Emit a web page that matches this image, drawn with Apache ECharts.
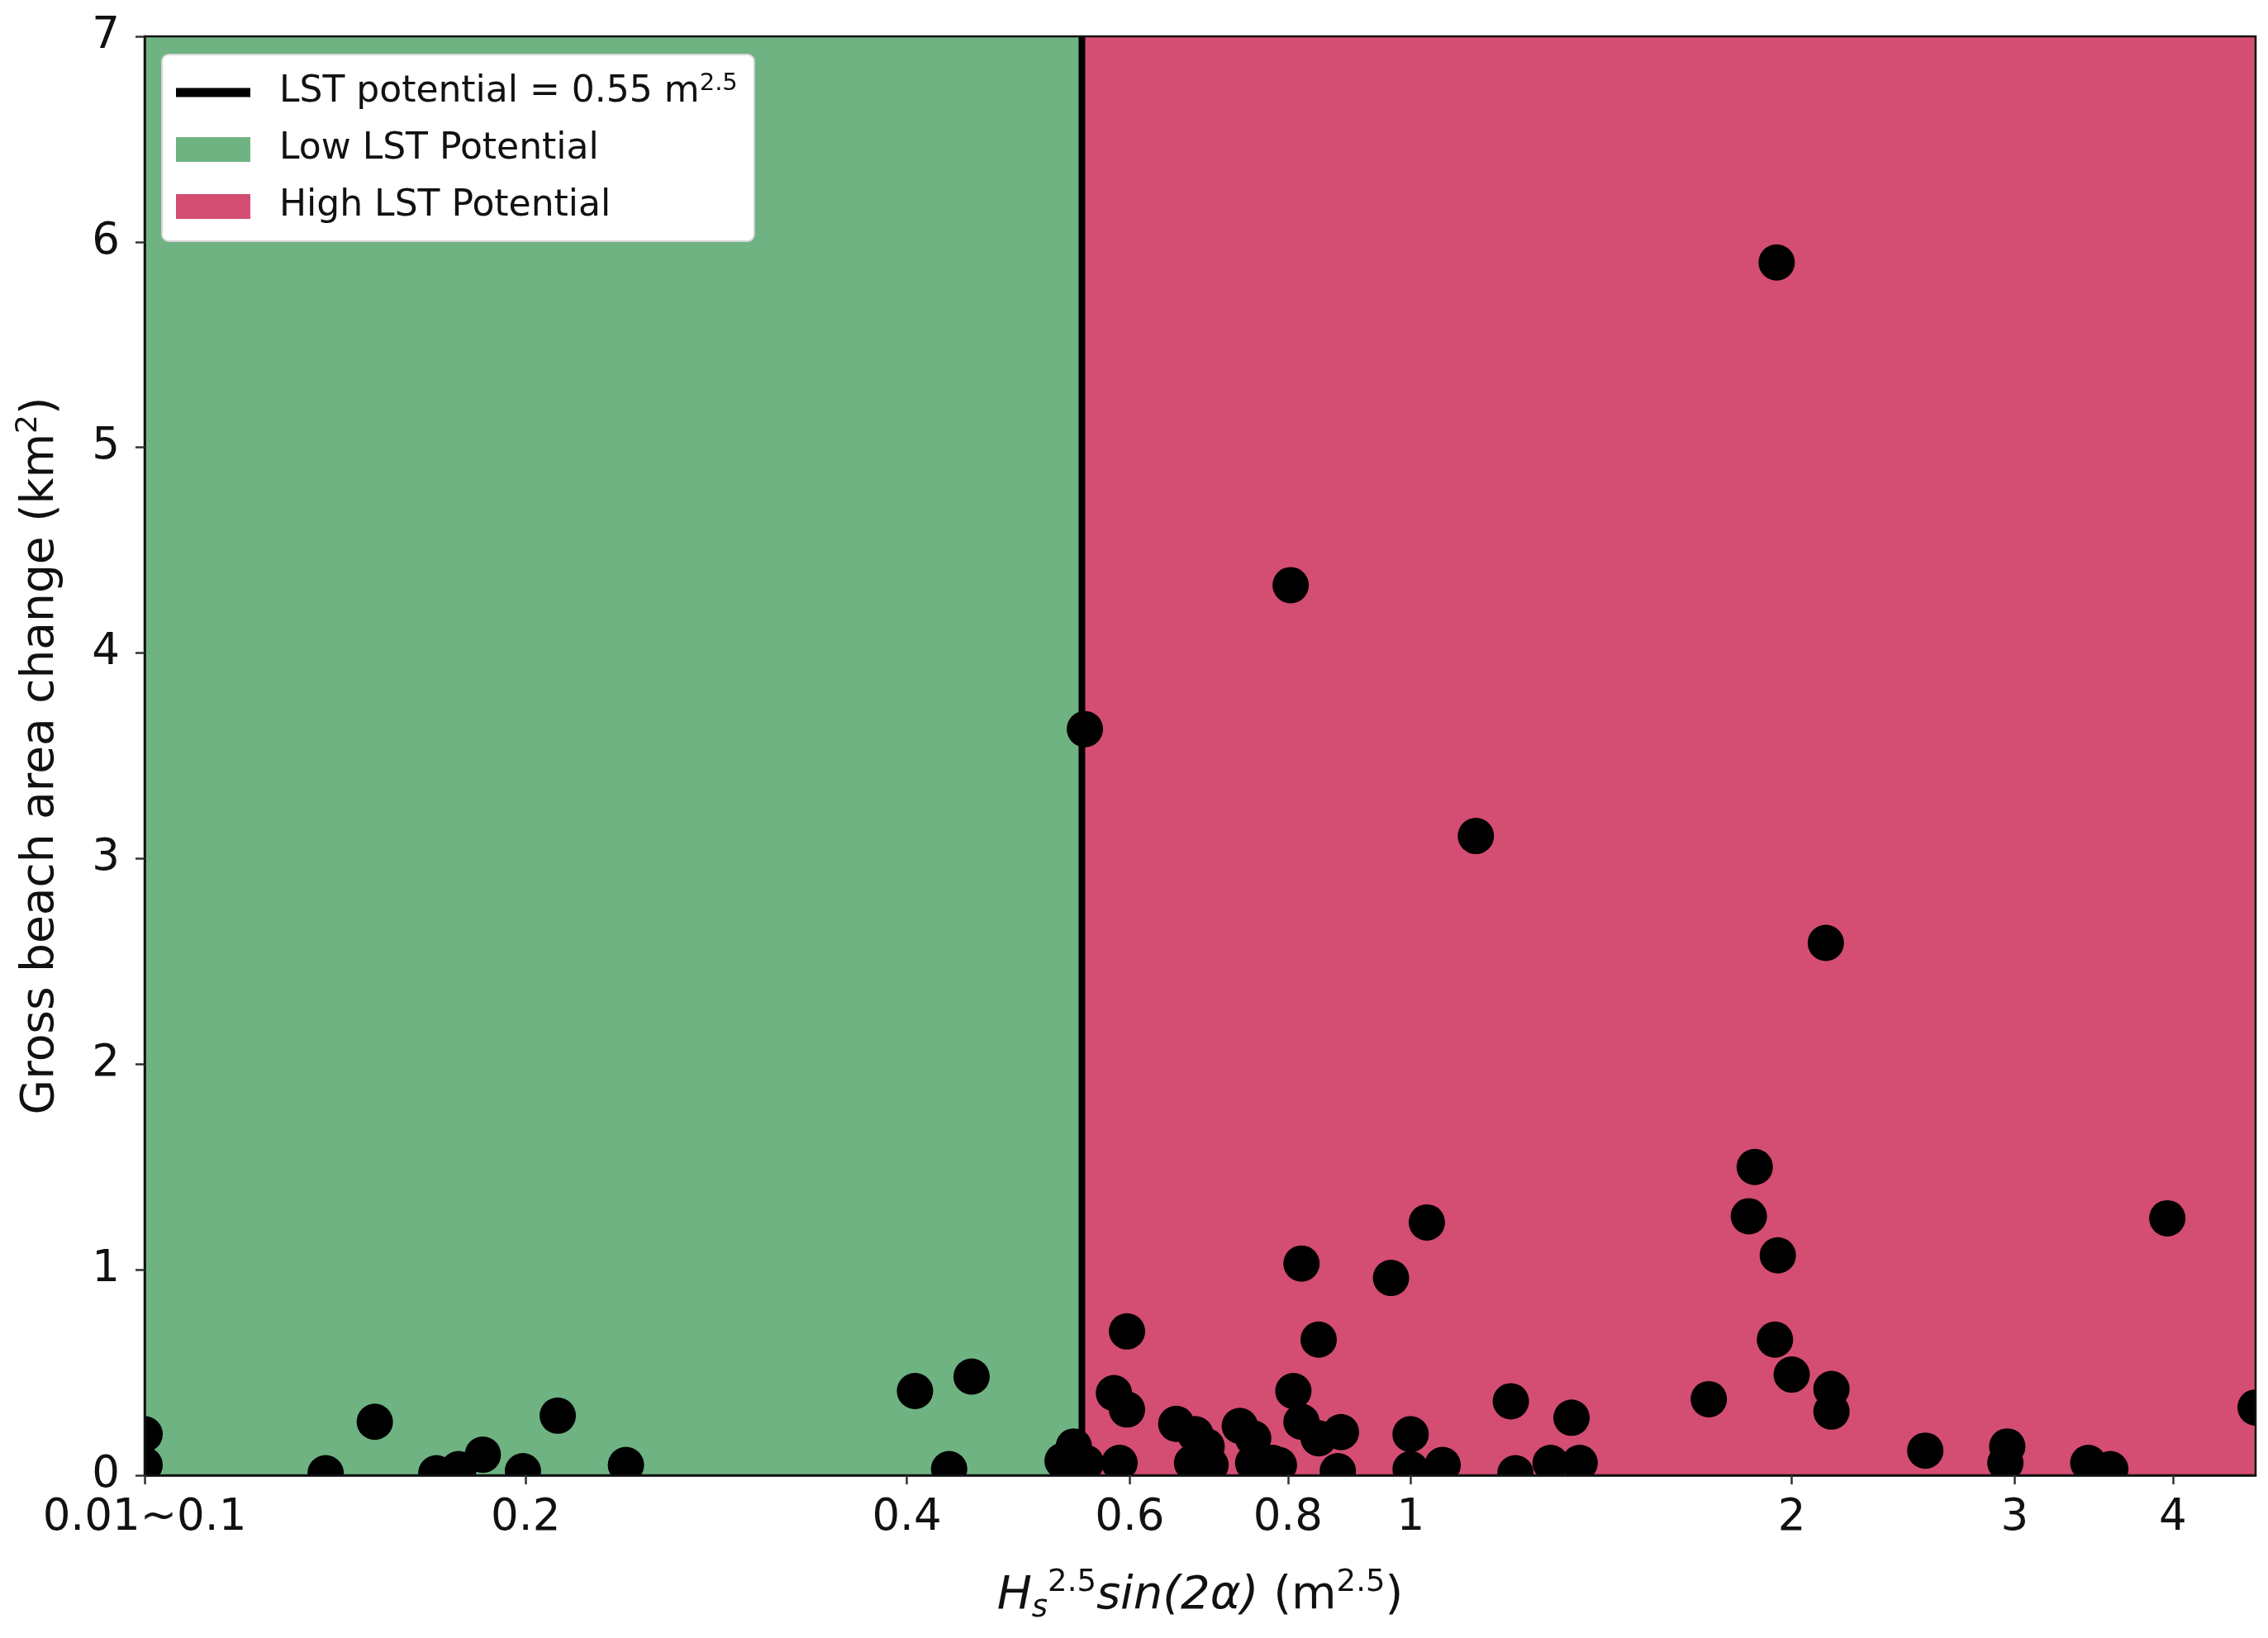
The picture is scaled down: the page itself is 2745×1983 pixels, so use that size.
<!DOCTYPE html>
<html>
<head>
<meta charset="utf-8">
<script src="https://cdn.jsdelivr.net/npm/echarts@6/dist/echarts.min.js"></script>
<style>
  html, body { margin: 0; padding: 0; background: #fff; }
  #chart { width: 2745px; height: 1983px; }
</style>
</head>
<body>
<div id="chart"></div>
<script>
// x: Hs^2.5 sin(2a) (m^2.5), y: gross beach area change (km^2)
const xValues = [
  0.1, 0.1, 0.139, 0.152, 0.170, 0.177, 0.185, 0.199, 0.212, 0.240,
  0.406, 0.450, 0.432, 0.531, 0.542, 0.554, 0.553,
  0.597, 0.583, 0.597, 0.589, 0.653, 0.676, 0.690, 0.672, 0.695,
  0.733, 0.751, 0.751, 0.778, 0.787, 0.804, 0.820, 0.846, 0.808, 0.820,
  0.846, 0.881, 0.876, 0.965, 1.00, 1.00, 1.03, 1.06, 1.126, 1.20,
  1.21, 1.29, 1.34, 1.36, 1.72, 1.87, 1.85, 1.946, 1.95, 1.94,
  2.00, 2.128, 2.15, 2.15, 2.55, 2.96, 2.95, 3.43, 3.57, 3.96, 4.65
];
const yValues = [
  0.20, 0.05, 0.01, 0.26, 0.01, 0.03, 0.10, 0.02, 0.29, 0.05,
  0.41, 0.48, 0.03, 0.07, 0.14, 0.06, 3.63,
  0.70, 0.40, 0.32, 0.06, 0.25, 0.20, 0.14, 0.06, 0.05,
  0.24, 0.18, 0.06, 0.06, 0.05, 4.33, 1.03, 0.66, 0.41, 0.26,
  0.18, 0.21, 0.02, 0.96, 0.20, 0.03, 1.23, 0.05, 3.11, 0.36,
  0.01, 0.06, 0.28, 0.06, 0.37, 1.50, 1.26, 5.90, 1.07, 0.66,
  0.49, 2.59, 0.42, 0.31, 0.12, 0.14, 0.06, 0.06, 0.03, 1.25, 0.33
];
const xMin = 0.1;
const xMax = 4.65;
const yMin = 0;
const yMax = 7;
const threshold = 0.55;
const xTickValues = [0.1, 0.2, 0.4, 0.6, 0.8, 1, 2, 3, 4];
const xTickLabels = ['0.01~0.1', '0.2', '0.4', '0.6', '0.8', '1', '2', '3', '4'];

const lineName = 'LST potential = 0.55 m2.5';
const lowName = 'Low LST Potential';
const highName = 'High LST Potential';

const green = '#6fb383';
const red = '#d44d72';
const font = 'DejaVu Sans';

// grid box (pixels)
const gLeft = 175, gRight = 15, gTop = 44, gBottom = 197;
const W = 2745, H = 1983;

const points = xValues.map(function (x, i) { return [x, yValues[i]]; });

const chart = echarts.init(document.getElementById('chart'));

const option = {
  animation: false,
  backgroundColor: '#fff',
  textStyle: { fontFamily: font },
  grid: {
    left: gLeft, right: gRight, top: gTop, bottom: gBottom,
    show: true, borderColor: '#111', borderWidth: 2.5,
    backgroundColor: 'transparent', z: 10
  },
  legend: {
    orient: 'vertical',
    left: 196, top: 66,
    z: 20,
    padding: [21, 20, 20, 17],
    itemGap: 25,
    itemWidth: 90,
    itemHeight: 30,
    backgroundColor: '#fff',
    borderColor: '#d6d6d6',
    borderWidth: 2,
    borderRadius: 8,
    data: [
      { name: lineName, icon: 'path://M0,0 L10,0 L10,1.2 L0,1.2 Z' },
      { name: lowName, icon: 'rect' },
      { name: highName, icon: 'rect' }
    ],
    formatter: function (name) {
      if (name === lineName) {
        return '{gap|}{t|LST potential = 0.55 m}{sup|2.5}';
      }
      return '{gap|}{t|' + name + '}';
    },
    textStyle: {
      fontFamily: font,
      color: '#111',
      rich: {
        gap: { width: 30 },
        t: { fontSize: 44, lineHeight: 50, fontFamily: font, color: '#111' },
        sup: { fontSize: 29, lineHeight: 30, verticalAlign: 'top', fontFamily: font, color: '#111' }
      }
    }
  },
  xAxis: [
    {
      type: 'log',
      min: xMin, max: xMax,
      position: 'bottom',
      z: 10,
      axisLine: { show: true, lineStyle: { color: '#111', width: 2.5 } },
      axisTick: { show: false },
      axisLabel: { show: false },
      splitLine: { show: false }
    },
    {
      // label axis, same extent as the log axis in log10 units
      type: 'value',
      min: Math.log10(xMin), max: Math.log10(xMax),
      position: 'bottom',
      z: 10,
      axisLine: { show: false, onZero: false },
      axisTick: {
        show: true, inside: false, length: 11,
        lineStyle: { color: '#333', width: 2.5 },
        customValues: xTickValues.map(Math.log10)
      },
      axisLabel: {
        show: true, margin: 26,
        fontSize: 53, color: '#111', fontFamily: font,
        customValues: xTickValues.map(Math.log10),
        formatter: function (v) {
          for (let i = 0; i < xTickValues.length; i++) {
            if (Math.abs(Math.log10(xTickValues[i]) - v) < 1e-6) return xTickLabels[i];
          }
          return '';
        }
      },
      splitLine: { show: false },
      name: '{i|H}{sub|s}{sup|2.5}{i|sin(2α)}{n| (m}{sup|2.5}{n|)}',
      nameLocation: 'middle',
      nameGap: 112,
      nameTextStyle: {
        rich: {
          i: { fontSize: 56, lineHeight: 68, fontStyle: 'italic', fontFamily: font, color: '#111' },
          n: { fontSize: 56, lineHeight: 68, fontFamily: font, color: '#111' },
          sub: { fontSize: 37, lineHeight: 32, verticalAlign: 'bottom', fontStyle: 'italic', fontFamily: font, color: '#111' },
          sup: { fontSize: 37, lineHeight: 36, verticalAlign: 'top', fontFamily: font, color: '#111' }
        }
      }
    }
  ],
  yAxis: {
    type: 'value',
    min: yMin, max: yMax, interval: 1,
    z: 10,
    axisLine: { show: true, onZero: false, lineStyle: { color: '#111', width: 2.5 } },
    axisTick: { show: true, inside: false, length: 11, lineStyle: { color: '#333', width: 2.5 } },
    axisLabel: { fontSize: 53, color: '#111', margin: 30, fontFamily: font },
    splitLine: { show: false },
    name: '{n|Gross beach area change (km}{sup|2}{n|)}',
    nameLocation: 'middle',
    nameGap: 92,
    nameTextStyle: {
      rich: {
        n: { fontSize: 55, lineHeight: 66, fontFamily: font, color: '#111' },
        sup: { fontSize: 36, lineHeight: 34, verticalAlign: 'top', fontFamily: font, color: '#111' }
      }
    }
  },
  graphic: {
    elements: [
      // white masks so markers look clipped at the frame
      { type: 'rect', z: 6, silent: true, shape: { x: 0, y: H - gBottom + 1, width: W, height: gBottom }, style: { fill: '#fff' } },
      { type: 'rect', z: 6, silent: true, shape: { x: 0, y: 0, width: gLeft - 1, height: H }, style: { fill: '#fff' } },
      { type: 'rect', z: 6, silent: true, shape: { x: W - gRight + 1, y: 0, width: gRight, height: H }, style: { fill: '#fff' } }
    ]
  },
  series: [
    {
      name: lowName,
      type: 'line',
      data: [],
      z: 1,
      itemStyle: { color: green },
      lineStyle: { color: green },
      markArea: {
        silent: true,
        itemStyle: { color: green, opacity: 1 },
        data: [[{ xAxis: xMin }, { xAxis: threshold }]]
      }
    },
    {
      name: highName,
      type: 'line',
      data: [],
      z: 1,
      itemStyle: { color: red },
      lineStyle: { color: red },
      markArea: {
        silent: true,
        itemStyle: { color: red, opacity: 1 },
        data: [[{ xAxis: threshold }, { xAxis: xMax }]]
      }
    },
    {
      name: lineName,
      type: 'line',
      z: 3,
      symbol: 'none',
      itemStyle: { color: '#000' },
      lineStyle: { color: '#000', width: 8 },
      data: [[threshold, yMin], [threshold, yMax]]
    },
    {
      name: 'points',
      type: 'scatter',
      z: 4,
      symbol: 'circle',
      symbolSize: 44,
      itemStyle: { color: '#000', opacity: 1 },
      data: points
    }
  ]
};

chart.setOption(option);
</script>
</body>
</html>
